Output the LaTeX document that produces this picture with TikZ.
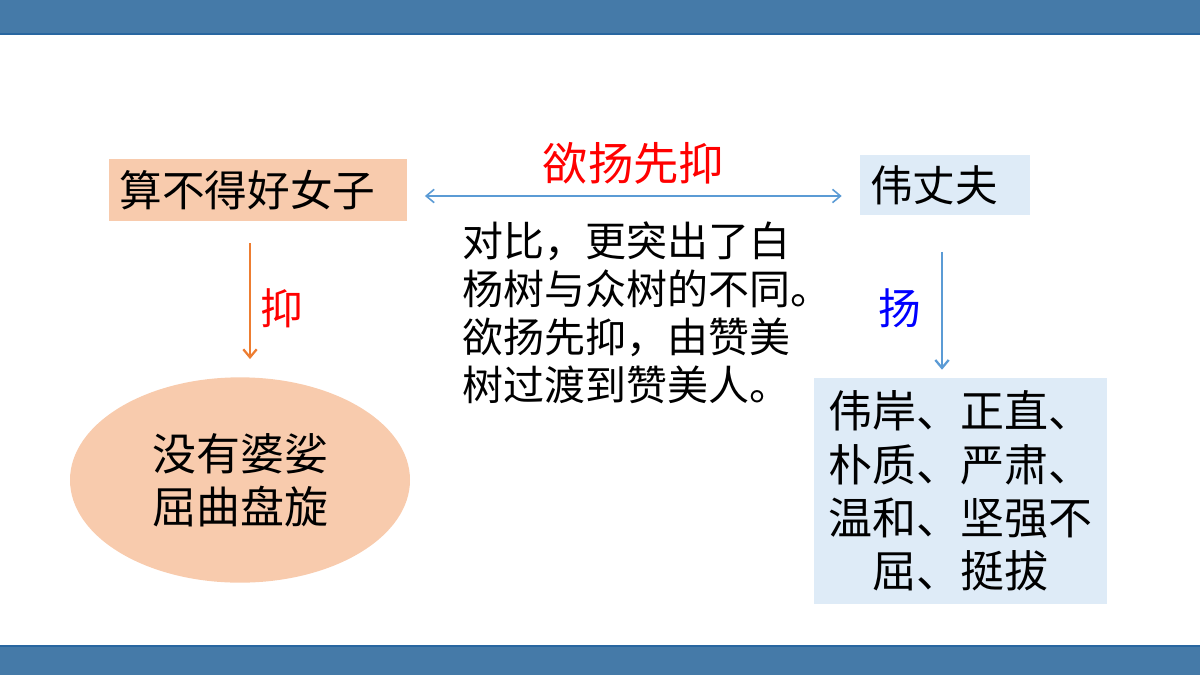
\documentclass[tikz,border=0pt]{standalone}
\usepackage{fontspec}
\setmainfont{Noto Sans CJK SC}
\usepackage{tikz}
\usetikzlibrary{arrows.meta, positioning, shapes.geometric}
\definecolor{barblue}{RGB}{69,122,168}
\definecolor{baredge}{RGB}{40,102,160}
\definecolor{peach}{RGB}{248,203,173}
\definecolor{paleblue}{RGB}{222,235,247}
\definecolor{linkblue}{RGB}{91,155,213}
\definecolor{linkorange}{RGB}{237,125,49}

\begin{document}
\begin{tikzpicture}[x=0.75pt, y=-0.75pt, >={Straight Barb[length=6pt, width=10pt]},
		titlebox/.style={inner ysep=0pt, inner xsep=7.5pt, align=left, font=\fontsize{32pt}{38pt}\selectfont},
		bodytext/.style={inner sep=0pt, font=\fontsize{33pt}{40pt}\selectfont},
		tag/.style={inner sep=1pt, font=\fontsize{32pt}{38pt}\selectfont}]
		\useasboundingbox (0,0) rectangle (1200,675);
		% bars
		\fill [barblue] (0,0) rectangle (1200,34);
		\fill [barblue] (0,646) rectangle (1200,675);
		\draw [baredge, line width=1pt] (0,34)--(1200,34);
		\draw [baredge, line width=1pt] (0,646)--(1200,646);
		
		% boxes
		\node [titlebox, fill=peach, text width=208pt, minimum height=46.5pt] (nvzi) at (258,190) {算不得好女子};
		\node [titlebox, fill=paleblue, text width=112.5pt, minimum height=45pt] (zhangfu) at (945,185) {伟丈夫};
		\node [bodytext, ellipse, fill=peach, align=center, minimum width=255pt, minimum height=154pt] (posuo) at (240,480) {没有婆娑\\屈曲盘旋};
		\node [bodytext, fill=paleblue, align=center, text width=220pt, minimum height=169.5pt] (weian) at (960.5,491) {伟岸、正直、\\朴质、严肃、\\温和、坚强不\\屈、挺拔};
		\node [inner sep=0pt, align=left, anchor=west, font=\fontsize{30.75pt}{36pt}\selectfont] (duibi) at (462,313) {对比，更突出了白\\杨树与众树的不同。\\欲扬先抑，由赞美\\树过渡到赞美人。};
		
		% labels:
		\draw [linkblue, line width=1.2pt, <->, shorten <=13.5pt, shorten >=13.5pt] ([yshift=-4.5pt]nvzi.east) -- ([yshift=-4.5pt]nvzi.east -| zhangfu.west)
			node [midway, above=7pt, tag, red, font=\fontsize{34pt}{40pt}\selectfont] (yuyang) {欲扬先抑};
		% down arrows
		\draw [linkorange, line width=1.7pt, ->, shorten <=16.5pt, shorten >=13.5pt] ([xshift=-6pt]nvzi.south) -- ([xshift=-6pt]nvzi.south |- posuo.north)
			node [midway, right=6pt, yshift=-7pt, tag, red] (yi) {抑};
		\draw [linkblue, line width=1.7pt, ->, shorten <=27.5pt, shorten >=6pt] ([xshift=-2.25pt]zhangfu.south) -- ([xshift=-2.25pt]zhangfu.south |- weian.north)
			node [midway, left=14pt, yshift=-9pt, tag, blue] (yang) {扬};
	\end{tikzpicture}
\end{document}
